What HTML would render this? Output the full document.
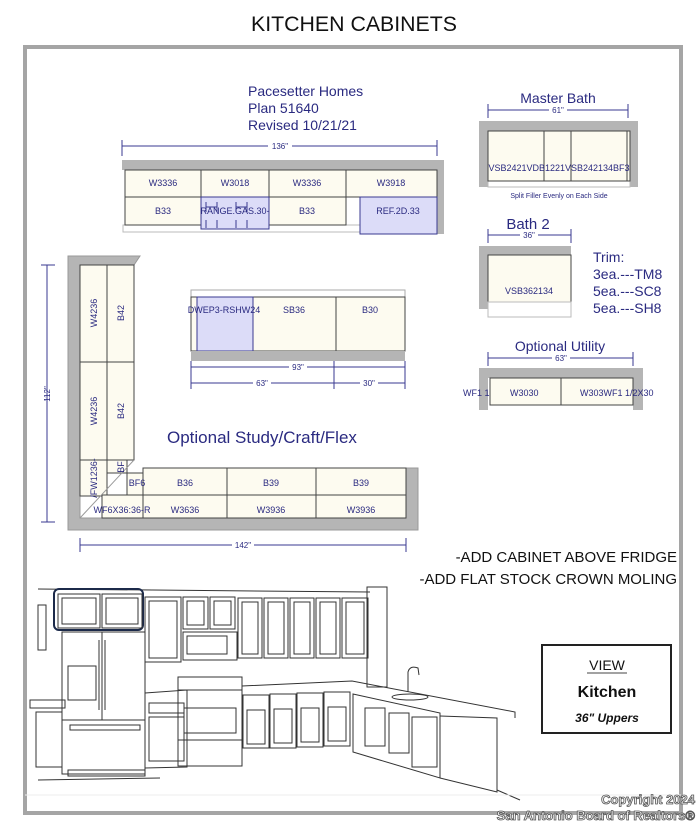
<!DOCTYPE html>
<html><head><meta charset="utf-8"><style>
html,body{margin:0;padding:0;background:#fff;width:699px;height:824px;overflow:hidden}
svg{display:block}
.c{font-family:"Liberation Sans",sans-serif;fill:#2a2a80}
.k{font-family:"Liberation Sans",sans-serif;fill:#111}
</style></head><body>
<svg width="699" height="824" viewBox="0 0 699 824" xmlns="http://www.w3.org/2000/svg">
<text x="354" y="31" text-anchor="middle" class="k" font-size="21" textLength="206" lengthAdjust="spacingAndGlyphs">KITCHEN CABINETS</text>
<rect x="25" y="47" width="656" height="766" fill="none" stroke="#a5a5a5" stroke-width="4"/>

<!-- Pacesetter -->
<g class="c" font-size="14"><text x="248" y="96">Pacesetter Homes</text><text x="248" y="113">Plan 51640</text><text x="248" y="130">Revised 10/21/21</text></g>

<g stroke="#3a3a90" stroke-width="1" fill="none">
<!-- dims -->
<line x1="122" y1="146" x2="437" y2="146"/><line x1="122" y1="140" x2="122" y2="156"/><line x1="437" y1="140" x2="437" y2="156"/>
<line x1="488" y1="110" x2="628" y2="110"/><line x1="488" y1="104" x2="488" y2="118"/><line x1="628" y1="104" x2="628" y2="118"/>
<line x1="488" y1="235" x2="571" y2="235"/><line x1="488" y1="229" x2="488" y2="243"/><line x1="571" y1="229" x2="571" y2="243"/>
<line x1="488" y1="358" x2="633" y2="358"/><line x1="488" y1="352" x2="488" y2="366"/><line x1="633" y1="352" x2="633" y2="366"/>
<line x1="191" y1="367" x2="405" y2="367"/><line x1="191" y1="361" x2="191" y2="389"/><line x1="405" y1="361" x2="405" y2="389"/>
<line x1="191" y1="383" x2="405" y2="383"/><line x1="334" y1="361" x2="334" y2="389"/>
<line x1="80" y1="545" x2="406" y2="545"/><line x1="80" y1="538" x2="80" y2="552"/><line x1="406" y1="538" x2="406" y2="552"/>
<line x1="47" y1="265" x2="47" y2="522"/><line x1="41" y1="265" x2="55" y2="265"/><line x1="41" y1="522" x2="55" y2="522"/>
</g>
<g class="c" font-size="8" text-anchor="middle">
<rect x="268" y="141" width="24" height="9" fill="#fff"/><text x="280" y="149">136"</text>
<rect x="549" y="106" width="18" height="8" fill="#fff"/><text x="558" y="113">61"</text>
<rect x="520" y="231" width="18" height="8" fill="#fff"/><text x="529" y="238">36"</text>
<rect x="552" y="354" width="18" height="8" fill="#fff"/><text x="561" y="361">63"</text>
<rect x="289" y="363" width="18" height="8" fill="#fff"/><text x="298" y="370">93"</text>
<rect x="253" y="379" width="18" height="8" fill="#fff"/><text x="262" y="386">63"</text>
<rect x="360" y="379" width="18" height="8" fill="#fff"/><text x="369" y="386">30"</text>
<rect x="232" y="541" width="22" height="8" fill="#fff"/><text x="243" y="548">142"</text>
<text transform="translate(50,394) rotate(-90)">112"</text>
</g>

<!-- top kitchen -->
<rect x="122" y="160" width="322" height="10" fill="#b5b5b5"/>
<rect x="437" y="160" width="7" height="74" fill="#b5b5b5"/>
<rect x="123" y="225" width="314" height="7" fill="#fff" stroke="#bbb"/>
<g fill="#fdfbf0" stroke="#444" stroke-width="1">
<rect x="125" y="170" width="76" height="27"/><rect x="201" y="170" width="68" height="27"/><rect x="269" y="170" width="77" height="27"/><rect x="346" y="170" width="91" height="27"/>
<rect x="125" y="197" width="76" height="28"/><rect x="269" y="197" width="77" height="28"/>
</g>
<rect x="201" y="197" width="68" height="32" fill="#dcdcf8" stroke="#3a3a90"/>
<g stroke="#3a3a90"><line x1="206" y1="202" x2="206" y2="212"/><line x1="217" y1="202" x2="217" y2="212"/><line x1="206" y1="207" x2="217" y2="207"/><line x1="236" y1="202" x2="236" y2="212"/><line x1="247" y1="202" x2="247" y2="212"/><line x1="236" y1="207" x2="247" y2="207"/><line x1="206" y1="220" x2="206" y2="228"/><line x1="236" y1="220" x2="236" y2="228"/><line x1="247" y1="220" x2="247" y2="228"/><line x1="217" y1="220" x2="217" y2="228"/></g>
<rect x="360" y="197" width="77" height="37" fill="#dcdcf8" stroke="#3a3a90"/>
<g class="c" font-size="9" text-anchor="middle">
<text x="163" y="186">W3336</text><text x="235" y="186">W3018</text><text x="307" y="186">W3336</text><text x="391" y="186">W3918</text>
<text x="163" y="214">B33</text><text x="235" y="214">RANGE.GAS.30-</text><text x="307" y="214">B33</text><text x="398" y="214">REF.2D.33</text>
</g>

<!-- L shape -->
<polygon points="68,256 140,256 134,265 80,265 80,518 406,518 406,468 418,468 418,530 68,530" fill="#b5b5b5" stroke="#999"/>
<g fill="#fdfbf0" stroke="#444">
<rect x="80" y="265" width="27" height="97"/><rect x="107" y="265" width="27" height="97"/>
<rect x="80" y="362" width="27" height="98"/><rect x="107" y="362" width="27" height="98"/>
<rect x="80" y="460" width="27" height="36"/><rect x="107" y="460" width="20" height="13"/>
<rect x="127" y="473" width="16" height="22"/>
<rect x="143" y="468" width="84" height="27"/><rect x="227" y="468" width="89" height="27"/><rect x="316" y="468" width="90" height="27"/>
<rect x="102" y="495" width="41" height="23"/><rect x="143" y="495" width="84" height="23"/><rect x="227" y="495" width="89" height="23"/><rect x="316" y="495" width="90" height="23"/>
</g>
<line x1="80" y1="518" x2="134" y2="460" stroke="#999"/>
<g class="c" font-size="9" text-anchor="middle">
<text transform="translate(97,313) rotate(-90)">W4236</text><text transform="translate(124,313) rotate(-90)">B42</text>
<text transform="translate(97,411) rotate(-90)">W4236</text><text transform="translate(124,411) rotate(-90)">B42</text>
<text transform="translate(97,478) rotate(-90)">/FW1236-</text><text transform="translate(124,467) rotate(-90)">BF</text>
<text x="137" y="486">BF6</text><text x="185" y="486">B36</text><text x="271" y="486">B39</text><text x="361" y="486">B39</text>
<text x="122" y="513">WF6X36:36-R</text><text x="185" y="513">W3636</text><text x="271" y="513">W3936</text><text x="361" y="513">W3936</text>
</g>

<!-- sink run -->
<rect x="191" y="290" width="214" height="7" fill="#fff" stroke="#aaa"/>
<g fill="#fdfbf0" stroke="#444"><rect x="191" y="297" width="6" height="54"/><rect x="253" y="297" width="83" height="54"/><rect x="336" y="297" width="69" height="54"/></g>
<rect x="197" y="297" width="56" height="54" fill="#dcdcf8" stroke="#3a3a90"/>
<rect x="191" y="351" width="214" height="10" fill="#b5b5b5"/>
<g class="c" font-size="9" text-anchor="middle"><text x="224" y="313">DWEP3-RSHW24</text><text x="294" y="313">SB36</text><text x="370" y="313">B30</text></g>

<text x="167" y="443" class="c" font-size="17">Optional Study/Craft/Flex</text>

<!-- Master bath -->
<text x="558" y="103" class="c" font-size="14" text-anchor="middle">Master Bath</text>
<polygon points="479,121 638,121 638,187 630,187 630,131 488,131 488,187 479,187" fill="#b5b5b5"/>
<rect x="488" y="181" width="142" height="6" fill="#fff" stroke="#bbb"/>
<g fill="#fdfbf0" stroke="#444"><rect x="488" y="131" width="56" height="50"/><rect x="544" y="131" width="27" height="50"/><rect x="571" y="131" width="56" height="50"/><rect x="627" y="131" width="3" height="50"/></g>
<text x="559" y="171" class="c" font-size="9" text-anchor="middle">VSB2421VDB1221VSB242134BF3</text>
<text x="559" y="198" class="c" font-size="7" text-anchor="middle">Split Filler Evenly on Each Side</text>

<!-- Bath 2 -->
<text x="528" y="229" class="c" font-size="15" text-anchor="middle">Bath 2</text>
<polygon points="479,246 571,246 571,255 488,255 488,309 479,309" fill="#b5b5b5"/>
<rect x="488" y="255" width="83" height="47" fill="#fdfbf0" stroke="#444"/>
<rect x="488" y="302" width="83" height="15" fill="#fff" stroke="#bbb"/>
<text x="529" y="294" class="c" font-size="9" text-anchor="middle">VSB362134</text>
<g class="c" font-size="14"><text x="593" y="262">Trim:</text><text x="593" y="279">3ea.---TM8</text><text x="593" y="296">5ea.---SC8</text><text x="593" y="313">5ea.---SH8</text></g>

<!-- Utility -->
<text x="560" y="351" class="c" font-size="14" text-anchor="middle">Optional Utility</text>
<polygon points="479,368 643,368 643,410 633,410 633,378 488,378 488,410 479,410" fill="#b5b5b5"/>
<g fill="#fdfbf0" stroke="#444"><rect x="490" y="378" width="71" height="27"/><rect x="561" y="378" width="72" height="27"/></g>
<g class="c" font-size="9"><text x="463" y="396">WF1 1</text><text x="510" y="396">W3030</text><text x="580" y="396">W303WF1 1/2X30</text></g>

<!-- notes -->
<g class="k" font-size="15" text-anchor="end"><text x="677" y="562">-ADD CABINET ABOVE FRIDGE</text><text x="677" y="584">-ADD FLAT STOCK CROWN MOLING</text></g>

<!-- view box -->
<rect x="542" y="645" width="129" height="88" fill="#fff" stroke="#222" stroke-width="2"/>
<text x="607" y="670" class="k" font-size="14" text-anchor="middle" fill="#444">VIEW</text>
<line x1="587" y1="673" x2="627" y2="673" stroke="#444"/>
<text x="607" y="697" class="k" font-size="16" font-weight="bold" text-anchor="middle">Kitchen</text>
<text x="607" y="722" class="k" font-size="12" font-weight="bold" font-style="italic" text-anchor="middle">36" Uppers</text>

<!-- sketch -->
<g fill="none" stroke="#333" stroke-width="1">
<line x1="38" y1="589" x2="370" y2="592"/>
<rect x="367" y="587" width="20" height="100"/>
<rect x="38" y="605" width="8" height="45"/>
<rect x="54" y="589" width="89" height="41" rx="5" stroke="#1c2a4a" stroke-width="2"/>
<rect x="58" y="594" width="42" height="34"/><rect x="62" y="598" width="34" height="26"/>
<rect x="102" y="594" width="40" height="34"/><rect x="106" y="598" width="32" height="26"/>
<rect x="145" y="597" width="36" height="65"/><rect x="149" y="601" width="28" height="57"/>
<rect x="183" y="597" width="25" height="32"/><rect x="210" y="597" width="25" height="32"/>
<rect x="187" y="601" width="17" height="24"/><rect x="214" y="601" width="17" height="24"/>
<rect x="183" y="632" width="54" height="28"/><rect x="187" y="636" width="40" height="18"/>
<rect x="238" y="598" width="24" height="60"/><rect x="264" y="598" width="24" height="60"/><rect x="290" y="598" width="24" height="60"/><rect x="316" y="598" width="24" height="60"/><rect x="342" y="598" width="26" height="60"/>
<rect x="242" y="602" width="16" height="52"/><rect x="268" y="602" width="16" height="52"/><rect x="294" y="602" width="16" height="52"/><rect x="320" y="602" width="16" height="52"/><rect x="346" y="602" width="18" height="52"/>
<rect x="62" y="632" width="83" height="142"/><line x1="102" y1="632" x2="102" y2="720"/><line x1="62" y1="720" x2="145" y2="720"/>
<line x1="99" y1="640" x2="99" y2="710"/><line x1="105" y1="640" x2="105" y2="710"/>
<rect x="68" y="666" width="28" height="34"/>
<rect x="70" y="725" width="70" height="5"/><rect x="68" y="770" width="77" height="6"/>
<rect x="30" y="700" width="35" height="8"/><rect x="36" y="712" width="26" height="55"/>
<path d="M145 693 L187 690 L187 767 L145 768 Z"/><rect x="149" y="703" width="35" height="10"/><rect x="149" y="717" width="35" height="44"/>
<rect x="178" y="677" width="64" height="13"/><rect x="178" y="690" width="64" height="76"/>
<rect x="184" y="708" width="52" height="25"/><line x1="178" y1="740" x2="242" y2="740"/>
<path d="M242 686 L352 681 L515 712 L515 718"/>
<rect x="243" y="695" width="26" height="53"/><rect x="270" y="694" width="26" height="54"/><rect x="297" y="693" width="26" height="54"/><rect x="324" y="692" width="26" height="54"/>
<rect x="247" y="710" width="18" height="34"/><rect x="274" y="709" width="18" height="34"/><rect x="301" y="708" width="18" height="34"/><rect x="328" y="707" width="18" height="34"/>
<path d="M353 694 L440 713 L440 778 L353 752 Z"/>
<rect x="365" y="708" width="20" height="38"/><rect x="389" y="713" width="20" height="40"/><rect x="412" y="717" width="25" height="50"/>
<path d="M440 716 L497 718 L497 792 L440 778"/>
<path d="M408 692 L408 672 Q410 665 418 668 L419 675"/>
<ellipse cx="410" cy="697" rx="18" ry="3"/>
<line x1="38" y1="780" x2="160" y2="778"/><line x1="497" y1="790" x2="520" y2="800"/>
</g>
<line x1="25" y1="795" x2="681" y2="795" stroke="#eee"/>

<g font-family="Liberation Sans,sans-serif" font-weight="bold" text-anchor="end" fill="#f4f4f4" stroke="#555" stroke-width="0.8">
<text x="695" y="804" font-size="13">Copyright 2024</text>
<text x="695" y="820" font-size="13">San Antonio Board of Realtors®</text>
</g>
</svg>
</body></html>
